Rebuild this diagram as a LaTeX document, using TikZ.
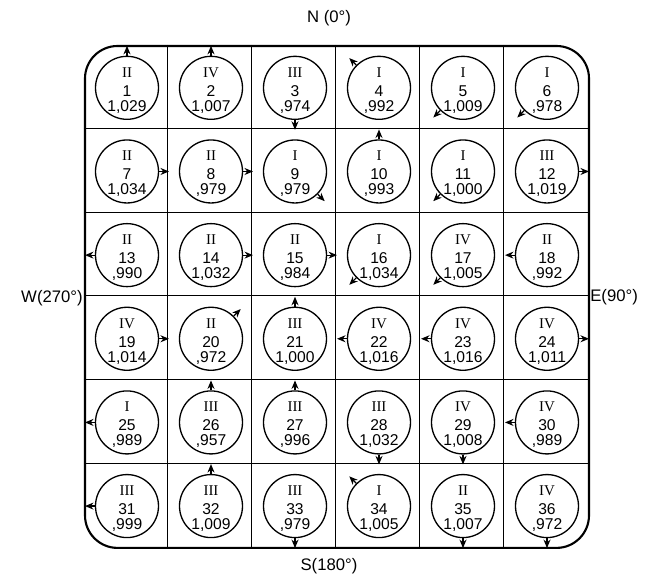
\documentclass[tikz,border=0pt]{standalone}
\usepackage{fontspec}
\setmainfont{Liberation Sans}
\newfontfamily\romfont{Liberation Serif}
\usetikzlibrary{arrows.meta, calc}

\begin{document}
\begin{tikzpicture}[
    >={Stealth[length=1.7mm, width=1.4mm]},
    station/.style={draw, circle, line width=0.75pt, minimum size=1.26cm, inner sep=0pt},
    romn/.style={font=\romfont\fontsize{8.5}{9}\selectfont, anchor=base, inner sep=0pt},
    val/.style={font=\fontsize{8.9}{9}\selectfont, anchor=base, inner sep=0pt},
    compass/.style={font=\fontsize{9.5}{11}\selectfont, inner sep=0pt},
]
    \useasboundingbox[fill=white] (0,0) rectangle (13.04,-11.58);

    % outer frame and grid
    \node[draw, line width=1.2pt, rounded corners=0.65cm, minimum width=10.08cm,
          minimum height=10.038cm, inner sep=0pt] (frame) at (6.74,-5.939) {};
    \foreach \i in {1,...,5} {
        \draw[line width=0.6pt] ($(frame.north west)+(\i*1.68,0)$) -- ($(frame.south west)+(\i*1.68,0)$);
        \draw[line width=0.6pt] ($(frame.north west)+(0,-\i*1.673)$) -- ($(frame.north east)+(0,-\i*1.673)$);
    }

    % compass points
    \node[compass] (north) at (6.58,-0.36) {N (0°)};
    \node[compass] (south) at (6.58,-11.32) {S(180°)};
    \node[compass, anchor=east] (west) at (1.66,-5.96) {W(270°)};
    \node[compass, anchor=west] (east) at (11.80,-5.94) {E(90°)};

    % stations: number / class / value / direction
    \foreach \n/\rn/\v/\a in {
        1/II/{1,029}/90, 2/IV/{1,007}/90, 3/III/{,974}/270, 4/I/{,992}/135, 5/I/{1,009}/225, 6/I/{,978}/225,
        7/II/{1,034}/0, 8/II/{,979}/0, 9/I/{,979}/315, 10/I/{,993}/90, 11/I/{1,000}/225, 12/III/{1,019}/0,
        13/II/{,990}/180, 14/II/{1,032}/0, 15/II/{,984}/0, 16/I/{1,034}/225, 17/IV/{1,005}/225, 18/II/{,992}/180,
        19/IV/{1,014}/0, 20/II/{,972}/45, 21/III/{1,000}/90, 22/IV/{1,016}/180, 23/IV/{1,016}/180, 24/IV/{1,011}/0,
        25/I/{,989}/180, 26/III/{,957}/90, 27/III/{,996}/90, 28/III/{1,032}/270, 29/IV/{1,008}/270, 30/IV/{,989}/180,
        31/III/{,999}/180, 32/III/{1,009}/90, 33/III/{,979}/270, 34/I/{1,005}/135, 35/II/{1,007}/270, 36/IV/{,972}/270} {
        \pgfmathtruncatemacro\col{mod(\n-1,6)}
        \pgfmathtruncatemacro\row{div(\n-1,6)}
        \node[station] (c\n) at ({1.70+(\col+0.5)*1.68}, {-0.92-(\row+0.5)*1.673}) {};
        \node[romn] at ($(c\n)+(0,0.21)$) {\rn};
        \node[val] at ($(c\n)+(0,-0.17)$) {\n};
        \node[val] at ($(c\n)+(0,-0.47)$) {\v};
        \coordinate (t\n) at ($(c\n)+(\a:0.84)$);
        \draw[->, line width=0.7pt] (c\n.\a) -- (t\n);
    }
\end{tikzpicture}
\end{document}
